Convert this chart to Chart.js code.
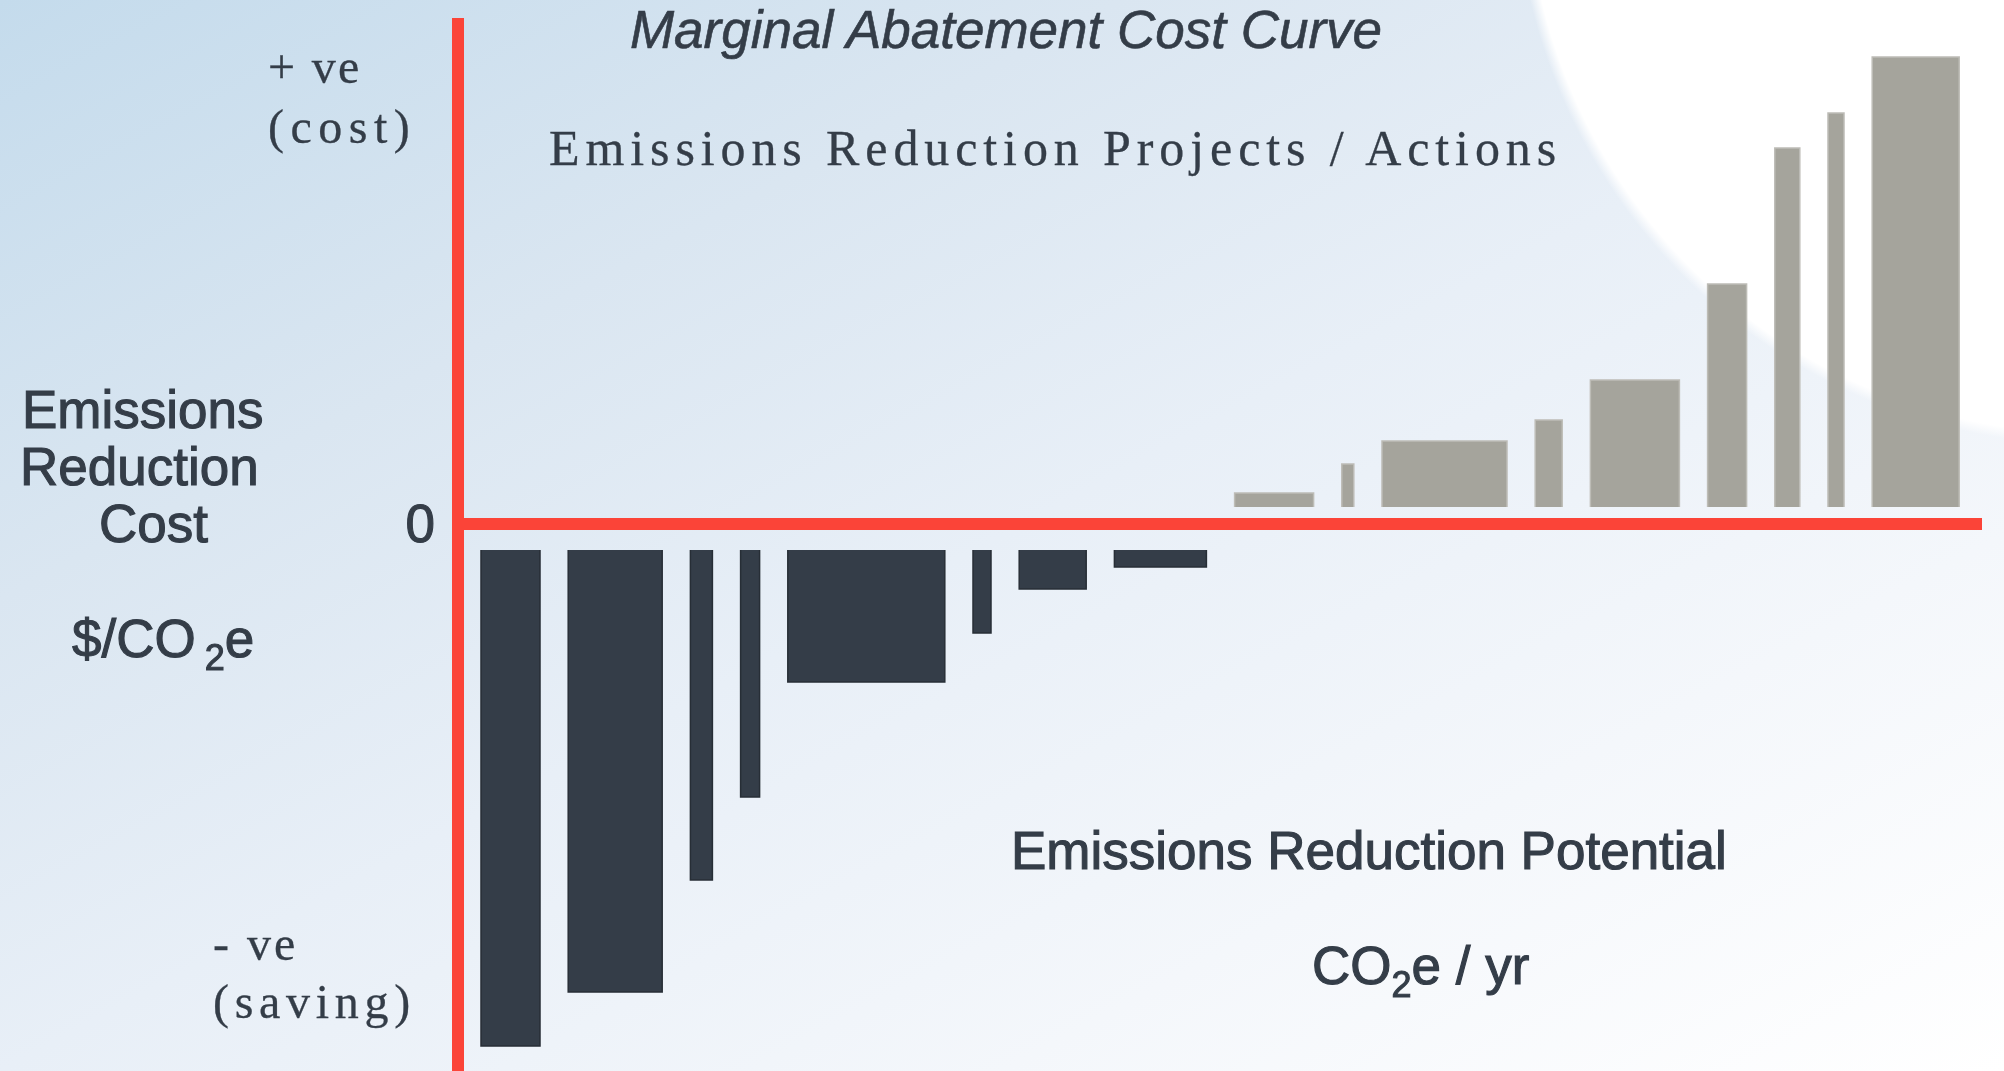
<!DOCTYPE html>
<html>
<head>
<meta charset="utf-8">
<title>Marginal Abatement Cost Curve</title>
<script src="https://cdn.jsdelivr.net/npm/chart.js@4.4.1/dist/chart.umd.min.js"></script>
<style>
  html, body { margin: 0; padding: 0; }
  body {
    width: 2004px; height: 1071px; overflow: hidden; position: relative;
    background:
      radial-gradient(circle 575px at 2090px -130px, #ffffff 98%, rgba(255,255,255,0) 100%),
      linear-gradient(to bottom right, #c4dbec 0%, #dae6f1 28%, #e8eff7 50%, #f4f7fb 75%, #ffffff 100%);
  }
  #chart { position: absolute; left: 0; top: 0; }
  svg { position: absolute; left: 0; top: 0; pointer-events: none; }
  text { fill: #343d48; }
  .sans { font-family: "Liberation Sans", Arial, sans-serif; stroke: #343d48; stroke-width: 1.1px; }
  .serif { font-family: "Liberation Serif", "Times New Roman", serif; stroke: #343d48; stroke-width: 0.3px; }
</style>
</head>
<body>
<canvas id="chart" width="2004" height="1071"></canvas>

<svg width="2004" height="1071">
  <text class="sans" x="1006" y="48" font-size="53" font-style="italic" text-anchor="middle" style="stroke-width:0.6px">Marginal Abatement Cost Curve</text>
  <text class="serif" x="549" y="165" font-size="50" style="letter-spacing:5.9px">Emissions Reduction Projects / Actions</text>

  <text class="serif" x="268" y="83" font-size="48" style="letter-spacing:2.3px">+ ve</text>
  <text class="serif" x="268" y="143" font-size="48" style="letter-spacing:6.5px">(cost)</text>
  <text class="serif" x="213" y="960" font-size="48" style="letter-spacing:3px">- ve</text>
  <text class="serif" x="213" y="1018" font-size="48" style="letter-spacing:5.7px">(saving)</text>

  <text class="sans" x="22" y="428" font-size="53">Emissions</text>
  <text class="sans" x="20" y="485" font-size="53">Reduction</text>
  <text class="sans" x="99" y="542" font-size="53">Cost</text>
  <text class="sans" x="72" y="657" font-size="53">$/CO<tspan font-size="36" dx="9" dy="13">2</tspan><tspan dy="-13">e</tspan></text>
  <text class="sans" x="435" y="542" font-size="53" text-anchor="end">0</text>

  <text class="sans" x="1011" y="869" font-size="53">Emissions Reduction Potential</text>
  <text class="sans" x="1312" y="984" font-size="53">CO<tspan font-size="36" dy="13">2</tspan><tspan dy="-13">e / yr</tspan></text>
</svg>

<script>
// projects that save money (negative cost), in order along the curve
const savingCost = [-52.2, -46.8, -35.6, -27.3, -15.8, -10.9, -6.5, -4.3];
const savingPotential = [5.9, 9.4, 2.2, 1.9, 15.7, 1.8, 6.7, 9.2];

// projects that cost money (positive cost)
const costCost = [3.1, 6.0, 8.3, 10.4, 14.4, 24.0, 37.6, 41.1, 46.7];
const costPotential = [7.9, 1.2, 12.5, 2.7, 8.9, 3.9, 2.5, 1.6, 8.7];

// axis ranges (no tick labels are shown)
const xRange = [-0.6, 152.4];
const yRange = [-54.7, 50.6];

const RED = '#fb4438';
const DARK = '#343d48';
const GREY = '#a5a49c';

// spacing between blocks and the small gap each block keeps from the zero line
const firstOffset = 2.3;
const blockGap = 2.82;
const savingBase = -2.6;
const costBase = 1.7;

function block(x0, w, v, base, fillColor, lineColor) {
  return {
    data: [
      { x: x0, y: base },
      { x: x0, y: v },
      { x: x0 + w, y: v },
      { x: x0 + w, y: base }
    ],
    backgroundColor: fillColor,
    borderColor: lineColor,
    borderWidth: 1.5,
    pointRadius: 0,
    tension: 0,
    fill: { value: base }
  };
}

const datasets = [];
let pos = firstOffset;
savingCost.forEach((v, i) => {
  datasets.push(block(pos, savingPotential[i], v, savingBase, DARK, '#272e36'));
  pos += savingPotential[i] + blockGap;
});
costCost.forEach((v, i) => {
  datasets.push(block(pos, costPotential[i], v, costBase, GREY, '#bdbcb6'));
  pos += costPotential[i] + blockGap;
});

// the two red axes
datasets.push({
  data: [{ x: xRange[0], y: 0 }, { x: xRange[1], y: 0 }],
  borderColor: RED, borderWidth: 12, pointRadius: 0, fill: false
});
datasets.push({
  data: [{ x: 0, y: yRange[0] }, { x: 0, y: yRange[1] }],
  borderColor: RED, borderWidth: 12, pointRadius: 0, fill: false
});

new Chart(document.getElementById('chart'), {
  type: 'line',
  data: { datasets: datasets },
  options: {
    responsive: false,
    animation: false,
    devicePixelRatio: 1,
    layout: { padding: { left: 452, right: 22, top: 18, bottom: 0 } },
    scales: {
      x: { type: 'linear', min: xRange[0], max: xRange[1], display: false },
      y: { type: 'linear', min: yRange[0], max: yRange[1], display: false }
    },
    plugins: {
      legend: { display: false },
      tooltip: { enabled: false }
    }
  }
});
</script>
</body>
</html>
